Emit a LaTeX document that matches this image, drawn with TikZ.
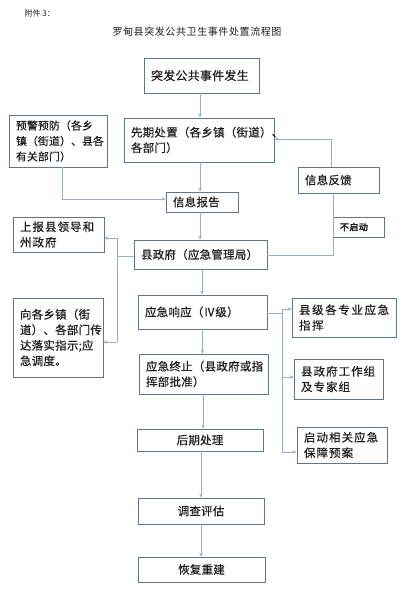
\documentclass[tikz,border=0pt]{standalone}
\usepackage{fontspec}
\setmainfont{Noto Sans CJK SC}
\newfontfamily\cjkn[LetterSpace=2,FakeBold=0.4]{Noto Sans CJK SC}
\newfontfamily\cjkw[LetterSpace=9,FakeBold=0.4]{Noto Sans CJK SC}
\newfontfamily\cjkx[LetterSpace=14,FakeBold=0.4]{Noto Sans CJK SC}
\newfontfamily\cjkt[LetterSpace=6]{Noto Sans CJK SC}
\newfontfamily\cjkb[LetterSpace=5,FakeBold=3]{Noto Sans CJK SC}
\usetikzlibrary{arrows.meta}
\definecolor{boxc}{HTML}{5F7597}
\definecolor{linec}{HTML}{9BAECB}
\definecolor{txtc}{HTML}{1E1E1E}
\begin{document}
\begin{tikzpicture}[x=1pt,y=-1pt,
  box/.style={draw=boxc, line width=0.7pt, inner xsep=7pt, inner ysep=0pt, align=left, text=txtc,
    font=\cjkn\fontsize{11.5}{15.5}\selectfont},
  wbox/.style={box, font=\cjkw\fontsize{11.5}{15.5}\selectfont},
  cbox/.style={box, align=center},
  conn/.style={draw=linec, line width=0.8pt},
  arr/.style={conn, -{Stealth[length=4pt,width=3.5pt]}}]
\useasboundingbox (0,0) rectangle (418,595);
\fill[white] (0,0) rectangle (418,595);

\node[anchor=west, text=txtc, font=\fontsize{8}{10}\selectfont] (att) at (21,13) {附件 3：};
\node[text=txtc, font=\cjkt\fontsize{10}{12}\selectfont] (title) at (197,32) {罗甸县突发公共卫生事件处置流程图};

\node[box, font=\cjkn\fontsize{12}{14}\selectfont, minimum width=115, minimum height=35, text width=101] (occur) at (201.5,75.5) {突发公共事件发生};
\node[box, font=\cjkn\fontsize{10.8}{15.5}\selectfont, minimum width=98, minimum height=52, text width=84] (warn) at (58,141) {预警预防（各乡\\镇（街道）、县各\\有关部门）};
\node[box, minimum width=150, minimum height=44, text width=136] (early) at (199,140) {先期处置（各乡镇（街道）、\\各部门）};
\node[box, minimum width=81, minimum height=26, text width=67] (feedback) at (338.5,180) {信息反馈};
\node[box, minimum width=72, minimum height=20, text width=58] (report) at (202,202) {信息报告};
\node[box, font=\cjkb\fontsize{9}{10}\selectfont, minimum width=51, minimum height=20, text width=37] (nostart) at (358.5,227) {不启动};
\node[wbox, minimum width=91, minimum height=35, text width=77] (upper) at (58.5,234.5) {上报县领导和\\州政府};
\node[box, minimum width=133, minimum height=29, text width=119] (gov) at (200.5,254.5) {县政府（应急管理局）};
\node[box, minimum width=90, minimum height=79, text width=76] (towns) at (58,337.5) {向各乡镇（街\\道）、各部门传\\达落实指示;应\\急调度。};
\node[box, minimum width=129, minimum height=34, text width=115] (resp) at (202.5,312) {应急响应（Ⅳ级）};
\node[box, font=\cjkx\fontsize{11.5}{15.5}\selectfont, minimum width=104, minimum height=39, text width=90] (cmd) at (344,317.5) {县级各专业应急\\指挥};
\node[box, minimum width=129, minimum height=40, text width=115] (endr) at (203.5,374) {应急终止（县政府或指\\挥部批准）};
\node[wbox, minimum width=89, minimum height=40, text width=75] (team) at (338.5,379) {县政府工作组\\及专家组};
\node[wbox, minimum width=90, minimum height=36, text width=76] (plan) at (342,445) {启动相关应急\\保障预案};
\node[cbox, minimum width=126, minimum height=22, text width=112] (after) at (200,440) {后期处理};
\node[cbox, minimum width=126, minimum height=26, text width=112] (survey) at (201,511) {调查评估};
\node[cbox, minimum width=127, minimum height=25, text width=113] (rebuild) at (201.5,569.5) {恢复重建};

% main column
\draw[arr] ([xshift=-1.5pt]occur.south) -- ([xshift=-1.5pt]occur.south |- early.north);
\draw[arr] ([xshift=1pt]early.south) -- ([xshift=1pt]early.south |- report.north);
\draw[arr] ([xshift=-2pt]report.south) -- ([xshift=-2pt]report.south |- gov.north);
\draw[arr] ([xshift=1.5pt]gov.south) -- ([xshift=1.5pt]gov.south |- resp.north);
\draw[arr] (resp.south) -- (resp.south |- endr.north);
\draw[arr] ([xshift=-0.5pt]endr.south) -- ([xshift=-0.5pt]endr.south |- after.north);
\draw[arr] ([xshift=1pt]after.south) -- ([xshift=1pt]after.south |- survey.north);
\draw[arr] (survey.south) -- (survey.south |- rebuild.north);

% warning to report
\draw[arr] ([xshift=4pt]warn.south) |- ([yshift=3pt]report.west);

% feedback loop
\coordinate (fbx) at (333,0);
\draw[conn] ([yshift=-0.5pt]gov.east) -- ([yshift=-0.5pt]gov.east -| fbx) -- (fbx |- feedback.south);
\draw[arr] ([xshift=-7.5pt]feedback.north) |- ([yshift=1pt]early.east);

% left distribution
\coordinate (lx) at (117,0);
\draw[conn] ([yshift=-1.5pt]gov.west) -- ([yshift=-1.5pt]gov.west -| lx);
\draw[conn] (lx |- 0,238) -- (lx |- 0,342);
\draw[arr] (lx |- 0,238) -- (upper.east |- 0,238);
\draw[arr] (lx |- 0,342) -- (towns.east |- 0,342);

% right distribution
\coordinate (rx) at (282,0);
\draw[conn] ([yshift=-1pt]resp.east) -- ([yshift=-1pt]resp.east -| rx);
\draw[conn] (rx |- 0,309) -- (rx |- 0,452);
\draw[arr] (rx |- 0,309) -- (cmd.west |- 0,309);
\draw[arr] (rx |- 0,377) -- (team.west |- 0,377);
\draw[arr] (rx |- 0,452) -- (plan.west |- 0,452);
\end{tikzpicture}
\end{document}
